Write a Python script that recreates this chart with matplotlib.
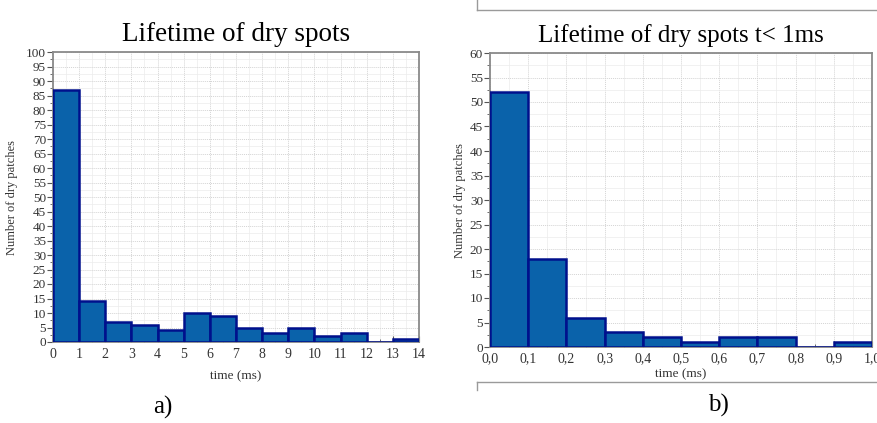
import numpy as np
import matplotlib
matplotlib.use("Agg")
import matplotlib.pyplot as plt
from matplotlib.lines import Line2D
from matplotlib.ticker import MultipleLocator, FuncFormatter

plt.rcParams['font.family'] = ['Liberation Serif', 'DejaVu Serif']

# panel a: lifetime of dry spots, 1 ms bins
edges_a = np.arange(0, 15, 1)
counts_a = [87, 14, 7, 6, 4, 10, 9, 5, 3, 5, 2, 3, 0, 1]

# panel b: lifetime < 1 ms, 0.1 ms bins
edges_b = np.round(np.arange(0, 1.01, 0.1), 1)
counts_b = [52, 18, 6, 3, 2, 1, 2, 2, 0, 1]

FILL = '#0a62aa'
EDGE = '#00108c'
SPINE = '#8a8a8a'

W, H = 878, 423
fig = plt.figure(figsize=(W / 100, H / 100), dpi=100)


def px_axes(l, t, r, b):
    return fig.add_axes([l / W, 1 - b / H, (r - l) / W, (b - t) / H])


def style(ax, xmajor, xminor, ymajor, yminor):
    ax.xaxis.set_major_locator(MultipleLocator(xmajor))
    ax.xaxis.set_minor_locator(MultipleLocator(xminor))
    ax.yaxis.set_major_locator(MultipleLocator(ymajor))
    ax.yaxis.set_minor_locator(MultipleLocator(yminor))
    ax.grid(which='major', color='#d4d4d4', linestyle=(0, (1, 1)), linewidth=0.7)
    ax.grid(which='minor', color='#ececec', linestyle='-', linewidth=0.5)
    ax.set_axisbelow(True)
    for s in ax.spines.values():
        s.set_color(SPINE)
        s.set_linewidth(1.3)
    ax.tick_params(axis='y', which='major', direction='out', length=4, color='#555555',
                   labelsize=9.5, labelcolor='#333333', pad=1)
    ax.tick_params(axis='y', which='minor', direction='out', length=2, color='#555555')
    ax.tick_params(axis='x', which='major', direction='in', length=4, color='#555555',
                   labelsize=10, labelcolor='#333333', pad=4)
    ax.tick_params(axis='x', which='minor', direction='in', length=2, color='#555555')


# ---- panel a
ax1 = px_axes(53, 52, 419, 342)
ax1.bar(edges_a[:-1], counts_a, width=np.diff(edges_a), align='edge',
        color=FILL, edgecolor=EDGE, linewidth=1.8, zorder=3)
ax1.set_xlim(0, 14)
ax1.set_ylim(0, 100)
style(ax1, 1, 0.5, 5, 2.5)
ax1.set_title('Lifetime of dry spots', fontsize=19.5, pad=8)
ax1.set_xlabel('time (ms)', fontsize=9.5, color='#333333', labelpad=7)
ax1.set_ylabel('Number of dry patches', fontsize=9, color='#333333', labelpad=6)

# ---- panel b
ax2 = px_axes(490, 53, 872, 347)
ax2.bar(edges_b[:-1], counts_b, width=np.diff(edges_b), align='edge',
        color=FILL, edgecolor=EDGE, linewidth=1.8, zorder=3)
ax2.set_xlim(0, 1)
ax2.set_ylim(0, 60)
style(ax2, 0.1, 0.05, 5, 2.5)
ax2.xaxis.set_major_formatter(FuncFormatter(lambda v, p: f'{v:.1f}'.replace('.', ',')))
ax2.set_title('Lifetime of dry spots t< 1ms', fontsize=18, pad=8)
ax2.set_xlabel('time (ms)', fontsize=9.5, color='#333333', labelpad=2)
ax2.set_ylabel('Number of dry patches', fontsize=9, color='#333333', labelpad=3)

# frame lines around panel b image
frame = '#9a9a9a'
for xs, ys in [([477, 878], [10, 10]), ([477, 477], [0, 10]),
               ([477, 878], [382, 382]), ([477, 477], [382, 390])]:
    fig.add_artist(Line2D([x / W for x in xs], [1 - y / H for y in ys],
                          color=frame, linewidth=1.0, transform=fig.transFigure))

fig.text(163 / W, 1 - 407 / H, 'a)', fontsize=18, ha='center', va='center')
fig.text(718 / W, 1 - 405 / H, 'b)', fontsize=18, ha='center', va='center')

fig.savefig('out.png', dpi=100)
